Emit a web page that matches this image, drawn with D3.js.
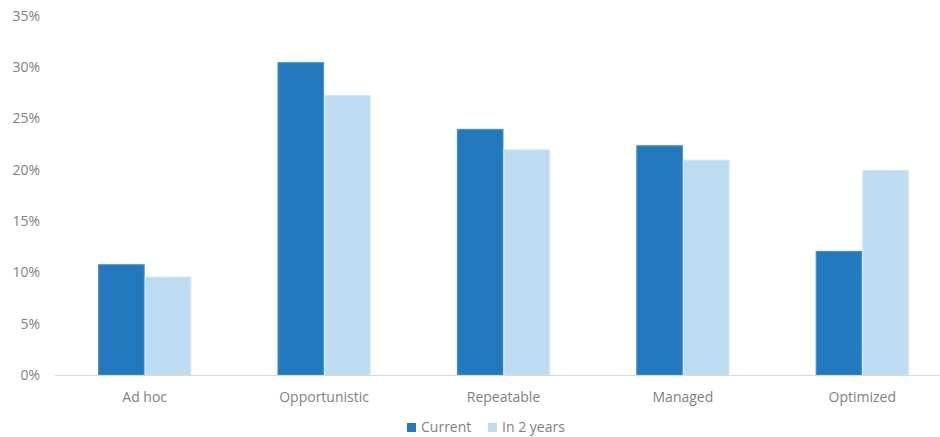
<!DOCTYPE html>
<html>
<head>
<meta charset="utf-8">
<script src="https://cdn.jsdelivr.net/npm/d3@7"></script>
<style>
  html, body { margin: 0; padding: 0; background: #fff; }
  svg text { font-family: "Open Sans", sans-serif; fill: #7f7f7f; }
</style>
</head>
<body>
<div id="chart"></div>
<script>
// 데이터
const categories = ["Ad hoc", "Opportunistic", "Repeatable", "Managed", "Optimized"];
const seriesNames = ["Current", "In 2 years"];
const currentValues = [10.8, 30.5, 24.0, 22.4, 12.1];
const in2YearsValues = [9.6, 27.3, 22.0, 21.0, 20.0];
const yTicks = [0, 5, 10, 15, 20, 25, 30, 35];

const colors = { "Current": "#2379be", "In 2 years": "#bddcf2" };
const strokes = { "Current": "#4a91cc", "In 2 years": "#d3e8f7" };

const width = 940, height = 437;
const plotLeft = 55, plotRight = 952, plotTop = 16, baseline = 375;

const svg = d3.select("#chart").append("svg")
  .attr("width", width)
  .attr("height", height);

const x0 = d3.scaleBand().domain(categories).range([plotLeft, plotRight]).padding(0);
const x1 = d3.scaleBand().domain(seriesNames)
  .range([x0.bandwidth() * 0.24, x0.bandwidth() * 0.76]).padding(0);
const y = d3.scaleLinear().domain([0, 35]).range([baseline, plotTop]);

// y축 라벨
svg.append("g").selectAll("text")
  .data(yTicks)
  .enter().append("text")
  .attr("x", 40)
  .attr("y", d => y(d))
  .attr("dy", "0.35em")
  .attr("text-anchor", "end")
  .attr("font-size", "14px")
  .text(d => d + "%");

// 막대
const rows = categories.map((c, i) => ({
  cat: c,
  values: [
    { key: "Current", value: currentValues[i] },
    { key: "In 2 years", value: in2YearsValues[i] }
  ]
}));

const groups = svg.append("g").selectAll("g")
  .data(rows)
  .enter().append("g")
  .attr("transform", d => `translate(${x0(d.cat)},0)`);

groups.selectAll("rect")
  .data(d => d.values)
  .enter().append("rect")
  .attr("x", d => x1(d.key) + 0.5)
  .attr("y", d => y(d.value) + 0.5)
  .attr("width", x1.bandwidth() - 1)
  .attr("height", d => baseline - y(d.value) - 0.5)
  .attr("fill", d => colors[d.key])
  .attr("stroke", d => strokes[d.key])
  .attr("stroke-width", 1);

// 기준선
svg.append("line")
  .attr("x1", plotLeft).attr("x2", width)
  .attr("y1", baseline + 0.5).attr("y2", baseline + 0.5)
  .attr("stroke", "#d9d9d9")
  .attr("stroke-width", 1);

// x축 라벨
svg.append("g").selectAll("text")
  .data(categories)
  .enter().append("text")
  .attr("x", d => x0(d) + x0.bandwidth() / 2)
  .attr("y", 402)
  .attr("text-anchor", "middle")
  .attr("font-size", "14px")
  .text(d => d);

// 범례
const legend = svg.append("g");
const legendX = [407, 488];
seriesNames.forEach((s, i) => {
  legend.append("rect")
    .attr("x", legendX[i])
    .attr("y", 423)
    .attr("width", 9)
    .attr("height", 9)
    .attr("fill", colors[s]);
  legend.append("text")
    .attr("x", legendX[i] + 14)
    .attr("y", 432)
    .attr("font-size", "14px")
    .text(s);
});
</script>
</body>
</html>
